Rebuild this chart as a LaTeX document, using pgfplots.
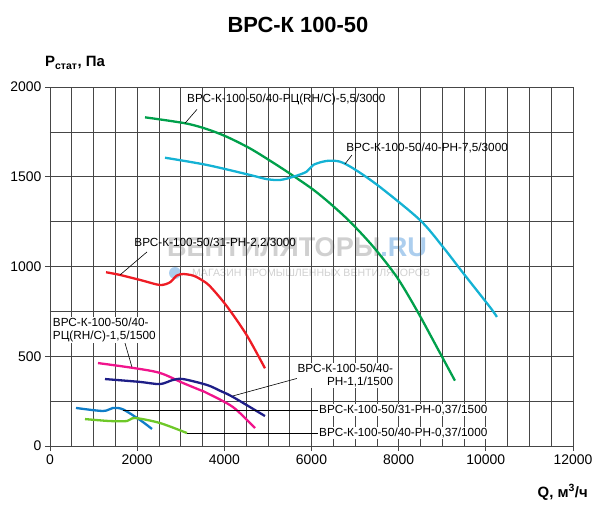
\documentclass[border=0pt]{standalone}
\usepackage{fontspec}
\setmainfont{Liberation Sans}
\usepackage{pgfplots}
\pgfplotsset{compat=1.18}
\definecolor{gridc}{RGB}{70,70,70}
\definecolor{cGreen}{RGB}{0,160,75}
\definecolor{cCyan}{RGB}{20,178,212}
\definecolor{cRed}{RGB}{238,28,36}
\definecolor{cPink}{RGB}{240,20,140}
\definecolor{cNavy}{RGB}{30,30,135}
\definecolor{cBlue}{RGB}{15,125,200}
\definecolor{cLime}{RGB}{110,200,40}
\definecolor{wmgray}{RGB}{208,208,208}
\definecolor{wmblue}{RGB}{172,206,238}
\tikzset{
  annot/.style={font=\fontsize{11.8}{13}\selectfont, inner sep=1bp},
  leader/.style={black, line width=0.6bp},
}
\begin{document}
\begin{tikzpicture}
\path[use as bounding box] (-50bp,-73bp) rectangle (550bp,446bp);
% watermark
\node[font=\fontsize{27.2}{29}\selectfont\bfseries, text=wmgray, inner sep=0pt] at (247bp,199bp) {ВЕНТИЛЯТОРЫ\textcolor{wmblue}{.RU}};
\node[font=\fontsize{10.6}{12}\selectfont, text=wmgray, inner sep=0pt, anchor=west] at (142bp,173bp) {МАГАЗИН ПРОМЫШЛЕННЫХ ВЕНТИЛЯТОРОВ};
\fill[wmblue] (125bp,173bp) circle (6bp);
% title and axis labels
\node[font=\fontsize{22}{25}\selectfont\bfseries] at (248bp,421bp) {ВРС-К 100-50};
\node[font=\fontsize{15}{17}\selectfont\bfseries, anchor=base west, inner sep=0pt] at (-5bp,379bp) {P\textsubscript{стат}, Па};
\node[font=\fontsize{15}{17}\selectfont\bfseries, anchor=base east, inner sep=0pt] at (538bp,-51bp) {Q, м\textsuperscript{3}/ч};
\begin{axis}[
  at={(0,0)}, anchor=south west,
  width=523bp, height=359bp, scale only axis,
  xmin=0, xmax=12000, ymin=0, ymax=2000,
  xtick={0,2000,...,12000}, ytick={0,500,...,2000},
  minor xtick={500,1000,...,11500}, minor ytick={250,750,1250,1750},
  grid=both,
  grid style={color=gridc, line width=0.7bp},
  minor grid style={color=gridc, line width=0.7bp},
  major grid style={color=gridc, line width=0.7bp},
  axis line style={color=gridc, line width=0.7bp},
  tick style={color=gridc, line width=0.7bp},
  major tick length=5bp, minor tick length=0pt,
  tick align=outside, xtick pos=bottom, ytick pos=left,
  ticklabel style={font=\fontsize{14}{16}\selectfont},
  /pgf/number format/assume math mode=true,
  /pgf/number format/set thousands separator={},
  scaled ticks=false,
  clip=false,
  every axis plot/.append style={line width=2.3bp, smooth, tension=0.5, mark=none},
]
% 5.5/3000
\addplot[cGreen] coordinates {(2180,1831) (3097,1798) (3594,1766) (4053,1723) (4588,1658) (5123,1578) (5582,1505) (6040,1428) (6423,1352) (6882,1250) (7417,1110) (7953,943) (8412,758) (8871,553) (9291,364)};
% 7.5/3000
\addplot[cCyan] coordinates {(2638,1606) (3594,1566) (4588,1510) (4971,1487) (5276,1482) (5582,1500) (5888,1528) (6040,1566) (6347,1588) (6653,1584) (7000,1540) (7570,1443) (8488,1259) (9016,1109) (9478,964) (10094,774) (10254,719)};
% 2.2/3000
\addplot[cRed] coordinates {(1285,968) (1606,953) (2100,923) (2523,897) (2753,912) (2906,949) (3059,958) (3288,949) (3480,925) (3670,890) (4053,780) (4512,618) (4932,433)};
% 1.5/1500
\addplot[cPink] coordinates {(1101,462) (1904,435) (2523,407) (3051,351) (3441,312) (3602,295) (4198,217) (4703,100)};
% 1.1/1500
\addplot[cNavy] coordinates {(1262,373) (2065,357) (2523,345) (2822,368) (3051,373) (3602,340) (3900,308) (4198,273) (4932,167)};
% 0.37/1500
\addplot[cBlue] coordinates {(596,212) (1216,195) (1445,212) (1675,204) (2065,145) (2340,95)};
% 0.37/1000
\addplot[cLime] coordinates {(803,150) (1376,139) (1766,139) (1950,156) (2523,128) (3143,72)};
% leaders
\draw[leader] (axis cs:3372,1875) -- (axis cs:3097,1798);
\draw[leader] (axis cs:6928,1621) -- (axis cs:6767,1571);
\draw[leader] (axis cs:2225,1081) -- (axis cs:1606,953);
\draw[leader] (axis cs:1720,574) -- (axis cs:1880,440);
\draw[leader] (axis cs:5781,384) -- (axis cs:4198,279);
\draw[leader] (axis cs:1675,200) -- (axis cs:6200,200);
\draw[leader] (axis cs:3143,72) -- (axis cs:6200,72);
% labels
\node[annot, anchor=west] at (axis cs:3120,1928) {ВРС-К-100-50/40-РЦ(RH/C)-5,5/3000};
\node[annot, anchor=west] at (axis cs:6770,1660) {ВРС-К-100-50/40-РН-7,5/3000};
\node[annot, anchor=west] at (axis cs:1910,1131) {ВРС-К-100-50/31-РН-2,2/3000};
\node[annot, anchor=west, align=left, fill=white, font=\fontsize{11.8}{13.5}\selectfont] at (axis cs:40,646) {ВРС-К-100-50/40-\\РЦ(RH/C)-1,5/1500};
\node[annot, anchor=east, align=right, fill=white, font=\fontsize{11.8}{13.5}\selectfont] at (axis cs:7900,393) {ВРС-К-100-50/40-\\РН-1,1/1500};
\node[annot, anchor=west, fill=white] at (axis cs:6150,200) {ВРС-К-100-50/31-РН-0,37/1500};
\node[annot, anchor=west, fill=white] at (axis cs:6150,72) {ВРС-К-100-50/40-РН-0,37/1000};
\end{axis}
\end{tikzpicture}
\end{document}
